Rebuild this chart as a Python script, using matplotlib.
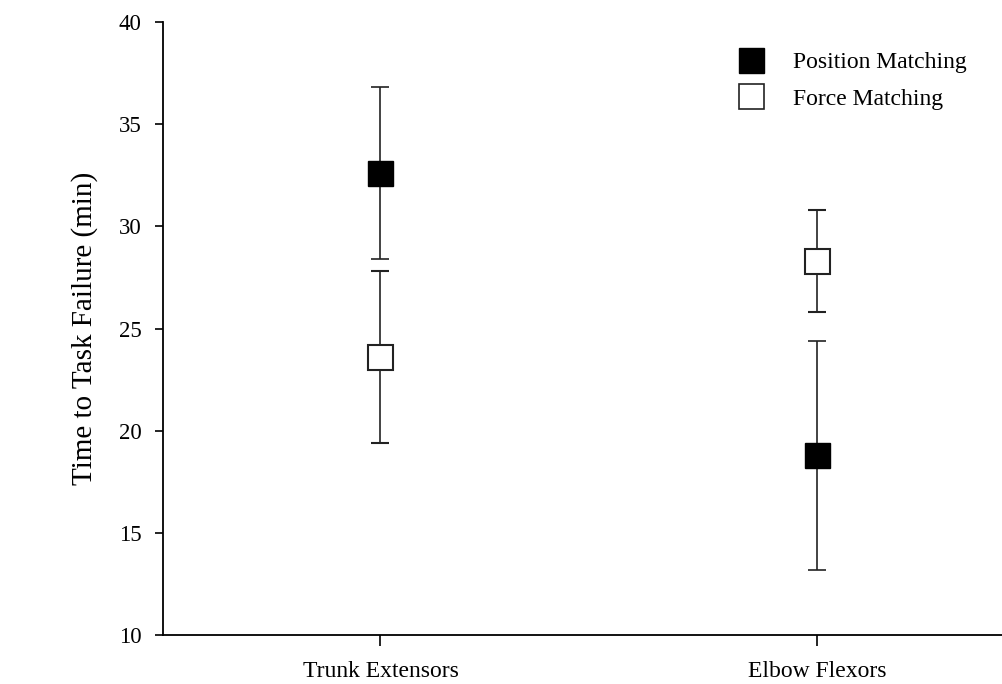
import matplotlib.pyplot as plt
from matplotlib.lines import Line2D

plt.rcParams['font.family'] = ['Liberation Serif', 'DejaVu Serif']

groups = ['Trunk Extensors', 'Elbow Flexors']
position_mean = [32.6, 18.8]
position_err = [4.2, 5.6]
force_mean = [23.6, 28.3]
force_err = [4.2, 2.5]

fig = plt.figure(figsize=(10.03, 6.84), dpi=100)
ax = fig.add_axes([0.163, 0.0716, 0.837, 0.8962])

x = [0, 1]
ax.errorbar(x, position_mean, yerr=position_err, fmt='s', color='black',
            mfc='black', mec='black', ms=18, ecolor='#222222', elinewidth=1.2,
            capsize=6.5, capthick=1.2, zorder=3)
ax.errorbar(x, force_mean, yerr=force_err, fmt='s', color='black',
            mfc='white', mec='#222222', mew=1.5, ms=18, ecolor='#222222',
            elinewidth=1.2, capsize=6.5, capthick=1.2, zorder=3)

ax.set_xlim(-0.497, 1.426)
ax.set_ylim(10, 40)
ax.set_yticks(range(10, 41, 5))
ax.set_xticks(x)
ax.set_xticklabels(groups)
ax.tick_params(axis='both', direction='out', width=1.2)
ax.tick_params(axis='y', length=6, pad=10, labelsize=16.5)
ax.tick_params(axis='x', length=8, pad=11, labelsize=17)
ax.set_ylabel('Time to Task Failure (min)', fontsize=21)
ax.yaxis.set_label_coords(-0.078, 0.5)

for side in ['top', 'right']:
    ax.spines[side].set_visible(False)
for side in ['left', 'bottom']:
    ax.spines[side].set_linewidth(1.3)

handles = [
    Line2D([], [], marker='s', ls='none', mfc='black', mec='black', ms=18),
    Line2D([], [], marker='s', ls='none', mfc='white', mec='#222222', mew=1.2, ms=18),
]
ax.legend(handles, ['Position Matching', 'Force Matching'], loc='upper left',
          bbox_to_anchor=(0.7253, 0.925), bbox_transform=fig.transFigure,
          borderaxespad=0, borderpad=0, frameon=False, fontsize=17,
          handletextpad=0.78, labelspacing=0.65)

fig.savefig('out.png', dpi=100)
